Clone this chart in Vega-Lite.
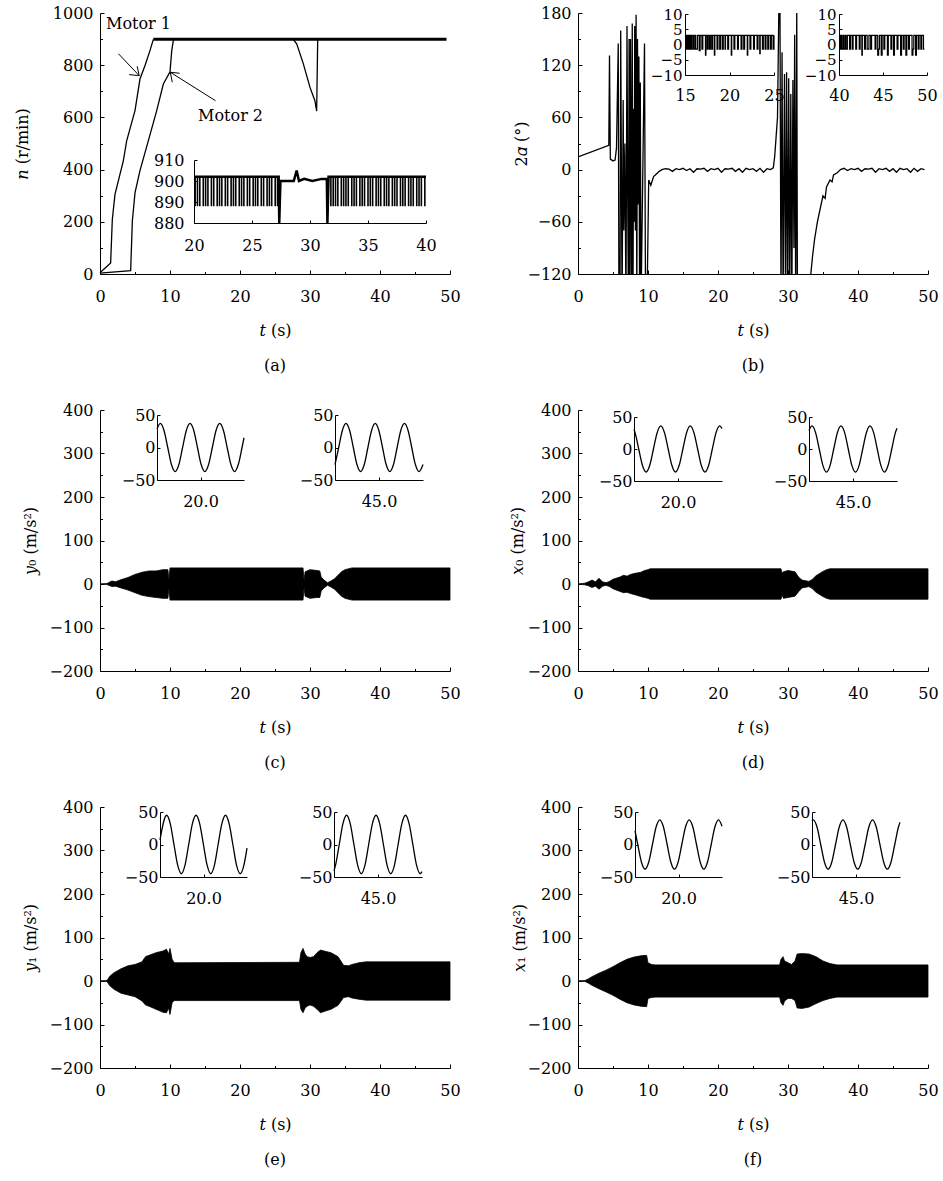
{
"$schema": "https://vega.github.io/schema/vega-lite/v6.json",
"padding": {"left": 14, "top": 1, "right": 5, "bottom": 5},
"config": {
 "view": {"stroke": null},
 "font": "DejaVu Serif",
 "axis": {"labelFont": "DejaVu Serif", "labelFontSize": 16, "labelColor": "black", "titleFont": "DejaVu Serif", "titleFontSize": 16, "titleFontWeight": "normal", "titleColor": "black", "domainColor": "black", "tickColor": "black", "grid": false, "labelFlush": false, "labelOverlap": false, "tickWidth": 1, "domainWidth": 1},
 "title": {"font": "DejaVu Serif", "fontSize": 16, "fontWeight": "normal", "color": "black"}
},
"columns": 2,
"spacing": {"row": 136, "column": 128},
"bounds": "flush",
"datasets": {
 "a_m": [
  {"motor":"1","t":0,"n":5},{"motor":"1","t":1.52,"n":42},{"motor":"1","t":1.76,"n":209},{"motor":"1","t":2.14,"n":305},{"motor":"1","t":3.33,"n":433},{"motor":"1","t":3.81,"n":510},{"motor":"1","t":5.0,"n":626},{"motor":"1","t":5.71,"n":747},{"motor":"1","t":6.43,"n":799},{"motor":"1","t":7.14,"n":856},{"motor":"1","t":7.62,"n":899},
  {"motor":"2","t":0,"n":3},{"motor":"2","t":4.38,"n":13},{"motor":"2","t":4.62,"n":203},{"motor":"2","t":5.0,"n":311},{"motor":"2","t":5.7,"n":395},{"motor":"2","t":6.9,"n":510},{"motor":"2","t":8.1,"n":626},{"motor":"2","t":9.05,"n":728},{"motor":"2","t":10.0,"n":775},{"motor":"2","t":10.25,"n":856},{"motor":"2","t":10.5,"n":899},
  {"motor":"dip","t":27.6,"n":899},{"motor":"dip","t":28.1,"n":882},{"motor":"dip","t":29.05,"n":805},{"motor":"dip","t":30.0,"n":715},{"motor":"dip","t":30.7,"n":664},{"motor":"dip","t":30.95,"n":624},{"motor":"dip","t":31.1,"n":899}
 ],
 "a_flat": [{"t":7.62,"n":899},{"t":49.5,"n":899}],
 "a_arr": [
  {"t1":2.63,"n1":844,"t2":5.6,"n2":760},{"t1":5.6,"n1":760,"t2":4.17,"n2":764},{"t1":5.6,"n1":760,"t2":5.31,"n2":796},
  {"t1":16.5,"n1":664,"t2":10.04,"n2":773},{"t1":10.04,"n1":773,"t2":11.38,"n2":769},{"t1":10.04,"n1":773,"t2":10.33,"n2":734.6}
 ],
 "a_txt": [{"t":5.5,"n":959,"label":"Motor 1"},{"t":18.65,"n":606,"label":"Motor 2"}],
 "a_il": [{"t":20,"n":902},{"t":27.3,"n":902},{"t":27.35,"n":880},{"t":27.45,"n":900},{"t":28.6,"n":900},{"t":28.85,"n":905},{"t":29.05,"n":900},{"t":29.5,"n":901},{"t":30.2,"n":900},{"t":31.0,"n":901},{"t":31.45,"n":901},{"t":31.5,"n":880},{"t":31.6,"n":902},{"t":40,"n":902}],
 "a_is": [
  {"t":20.1,"lo":888,"hi":902},{"t":20.3,"lo":888,"hi":902},{"t":20.5,"lo":888,"hi":902},{"t":20.8,"lo":888,"hi":902},{"t":21.0,"lo":888,"hi":902},{"t":21.2,"lo":888,"hi":902},{"t":21.5,"lo":888,"hi":902},{"t":21.7,"lo":888,"hi":902},{"t":22.0,"lo":888,"hi":902},{"t":22.2,"lo":888,"hi":902},{"t":22.4,"lo":888,"hi":902},{"t":22.7,"lo":888,"hi":902},{"t":22.9,"lo":888,"hi":902},{"t":23.2,"lo":888,"hi":902},{"t":23.4,"lo":888,"hi":902},{"t":23.6,"lo":888,"hi":902},{"t":23.9,"lo":888,"hi":902},{"t":24.1,"lo":888,"hi":902},{"t":24.3,"lo":888,"hi":902},{"t":24.6,"lo":888,"hi":902},{"t":24.8,"lo":888,"hi":902},{"t":25.1,"lo":888,"hi":902},{"t":25.3,"lo":888,"hi":902},{"t":25.5,"lo":888,"hi":902},{"t":25.8,"lo":888,"hi":902},{"t":26.0,"lo":888,"hi":902},{"t":26.3,"lo":888,"hi":902},{"t":26.5,"lo":888,"hi":902},{"t":26.7,"lo":888,"hi":902},{"t":27.0,"lo":888,"hi":902},{"t":27.2,"lo":888,"hi":902},
  {"t":31.8,"lo":888,"hi":902},{"t":32.0,"lo":888,"hi":902},{"t":32.2,"lo":888,"hi":902},{"t":32.4,"lo":888,"hi":902},{"t":32.7,"lo":888,"hi":902},{"t":32.9,"lo":888,"hi":902},{"t":33.1,"lo":888,"hi":902},{"t":33.3,"lo":888,"hi":902},{"t":33.6,"lo":888,"hi":902},{"t":33.8,"lo":888,"hi":902},{"t":34.0,"lo":888,"hi":902},{"t":34.3,"lo":888,"hi":902},{"t":34.5,"lo":888,"hi":902},{"t":34.7,"lo":888,"hi":902},{"t":35.0,"lo":888,"hi":902},{"t":35.2,"lo":888,"hi":902},{"t":35.4,"lo":888,"hi":902},{"t":35.7,"lo":888,"hi":902},{"t":35.9,"lo":888,"hi":902},{"t":36.1,"lo":888,"hi":902},{"t":36.4,"lo":888,"hi":902},{"t":36.6,"lo":888,"hi":902},{"t":36.8,"lo":888,"hi":902},{"t":37.1,"lo":888,"hi":902},{"t":37.3,"lo":888,"hi":902},{"t":37.5,"lo":888,"hi":902},{"t":37.8,"lo":888,"hi":902},{"t":38.0,"lo":888,"hi":902},{"t":38.2,"lo":888,"hi":902},{"t":38.5,"lo":888,"hi":902},{"t":38.7,"lo":888,"hi":902},{"t":38.9,"lo":888,"hi":902},{"t":39.2,"lo":888,"hi":902},{"t":39.4,"lo":888,"hi":902},{"t":39.6,"lo":888,"hi":902},{"t":39.9,"lo":888,"hi":902}
 ],
 "b_m": [
  {"t":0,"v":14.6},{"t":4.4,"v":28},{"t":4.5,"v":131},{"t":4.62,"v":12},{"t":5.0,"v":10},{"t":5.3,"v":11},{"t":5.5,"v":25},{"t":5.75,"v":145},{"t":5.85,"v":-160},{"t":6.0,"v":-160},{"t":6.1,"v":160},{"t":6.3,"v":-160},{"t":6.45,"v":80},{"t":6.55,"v":-70},{"t":6.7,"v":30},{"t":6.85,"v":-160},{"t":7.0,"v":165},{"t":7.1,"v":-30},{"t":7.2,"v":-160},{"t":7.3,"v":150},{"t":7.4,"v":-160},{"t":7.5,"v":150},{"t":7.6,"v":-30},{"t":7.65,"v":-160},{"t":7.75,"v":168},{"t":7.85,"v":-160},{"t":7.95,"v":70},{"t":8.05,"v":-60},{"t":8.1,"v":165},{"t":8.2,"v":-70},{"t":8.3,"v":178},{"t":8.4,"v":-160},{"t":8.5,"v":150},{"t":8.6,"v":-40},{"t":8.7,"v":130},{"t":8.8,"v":-160},{"t":8.9,"v":100},{"t":9.0,"v":-160},{"t":9.5,"v":145},{"t":9.65,"v":-160},{"t":9.85,"v":-160},{"t":10.1,"v":-12},{"t":10.4,"v":-18},{"t":10.8,"v":-8},{"t":11.2,"v":-5},{"t":11.6,"v":-2},
  {"t":12,"v":0},{"t":12.5,"v":1},{"t":13,"v":0.5},{"t":13.5,"v":-2},{"t":14,"v":1},{"t":14.5,"v":0},{"t":15,"v":1.5},{"t":15.5,"v":-1},{"t":16,"v":1},{"t":16.5,"v":-3},{"t":17,"v":1},{"t":17.5,"v":0.5},{"t":18,"v":1.5},{"t":18.5,"v":-2},{"t":19,"v":1},{"t":19.5,"v":0},{"t":20,"v":1.5},{"t":20.5,"v":-3},{"t":21,"v":1},{"t":21.5,"v":0.5},{"t":22,"v":1.5},{"t":22.5,"v":-2},{"t":23,"v":1},{"t":23.5,"v":-3},{"t":24,"v":1.5},{"t":24.5,"v":0},{"t":25,"v":1},{"t":25.5,"v":-2},{"t":26,"v":1.5},{"t":26.5,"v":-3},{"t":27,"v":1},{"t":27.5,"v":0},{"t":27.9,"v":2},
  {"t":28.1,"v":15},{"t":28.5,"v":60},{"t":28.7,"v":190},{"t":28.85,"v":190},{"t":29.0,"v":-160},{"t":29.15,"v":135},{"t":29.3,"v":-160},{"t":29.5,"v":110},{"t":29.65,"v":-160},{"t":29.8,"v":112},{"t":29.95,"v":-160},{"t":30.1,"v":105},{"t":30.25,"v":-160},{"t":30.4,"v":87},{"t":30.55,"v":-160},{"t":30.7,"v":103},{"t":30.85,"v":-90},{"t":30.95,"v":155},{"t":31.1,"v":-160},{"t":31.25,"v":190},{"t":31.35,"v":-160},{"t":33.2,"v":-125},{"t":33.5,"v":-100},{"t":33.8,"v":-80},{"t":34.2,"v":-60},{"t":34.6,"v":-45},{"t":35.0,"v":-30},{"t":35.3,"v":-33},{"t":35.5,"v":-20},{"t":36.0,"v":-12},{"t":36.3,"v":-14},{"t":36.5,"v":-6},{"t":37.0,"v":-4},{"t":37.5,"v":0},
  {"t":38,"v":1.5},{"t":38.5,"v":-1},{"t":39,"v":1},{"t":39.5,"v":0},{"t":40,"v":1.5},{"t":40.5,"v":-2},{"t":41,"v":1},{"t":41.5,"v":0.5},{"t":42,"v":1.5},{"t":42.5,"v":-3},{"t":43,"v":1},{"t":43.5,"v":0},{"t":44,"v":1.5},{"t":44.5,"v":-2},{"t":45,"v":1},{"t":45.5,"v":-3},{"t":46,"v":1.5},{"t":46.5,"v":0},{"t":47,"v":1},{"t":47.5,"v":-3},{"t":48,"v":1.5},{"t":48.5,"v":-2},{"t":49,"v":1},{"t":49.5,"v":0}
 ],
 "b_i1": [
  {"t":15.0,"v":3},{"t":15.1,"v":-1.5},{"t":15.2,"v":3},{"t":15.3,"v":-1.5},{"t":15.4,"v":3},{"t":15.5,"v":-1.5},{"t":15.6,"v":3},{"t":15.7,"v":-1.5},{"t":15.8,"v":3},{"t":15.95,"v":-1.5},{"t":16.1,"v":3},{"t":16.2,"v":-1.5},{"t":16.4,"v":3},{"t":16.6,"v":-2},{"t":16.7,"v":3},{"t":16.9,"v":-1.5},{"t":17.0,"v":3},{"t":17.3,"v":-3.5},{"t":17.35,"v":3},{"t":17.5,"v":-1.5},{"t":17.6,"v":3},{"t":17.75,"v":-1.5},{"t":17.85,"v":3},{"t":18.0,"v":-1.5},{"t":18.1,"v":3},{"t":18.3,"v":-3.5},{"t":18.35,"v":3},{"t":18.6,"v":-1.5},{"t":18.7,"v":3},{"t":18.9,"v":-1.5},{"t":19.0,"v":3},{"t":19.2,"v":-1.5},{"t":19.3,"v":3},{"t":19.5,"v":-1.5},{"t":19.55,"v":3},{"t":19.8,"v":-1.5},{"t":19.9,"v":3},{"t":20.2,"v":-3.5},{"t":20.25,"v":3},{"t":20.5,"v":-1.5},{"t":20.6,"v":3},{"t":20.9,"v":-1.5},{"t":21.0,"v":3},{"t":21.3,"v":-1.5},{"t":21.4,"v":3},{"t":21.6,"v":-1.5},{"t":21.7,"v":3},{"t":22.0,"v":-3.5},{"t":22.05,"v":3},{"t":22.3,"v":-1.5},{"t":22.4,"v":3},{"t":22.7,"v":-1.5},{"t":22.8,"v":3},{"t":23.1,"v":-1.5},{"t":23.2,"v":3},{"t":23.4,"v":-3},{"t":23.45,"v":3},{"t":23.7,"v":-1.5},{"t":23.8,"v":3},{"t":24.0,"v":-1.5},{"t":24.1,"v":3},{"t":24.3,"v":-1.5},{"t":24.4,"v":3},{"t":24.6,"v":-1.5},{"t":24.7,"v":3},{"t":24.9,"v":-1.5},{"t":25.0,"v":3}
 ],
 "b_i2": [
  {"t":40.0,"v":3},{"t":40.1,"v":-1.5},{"t":40.2,"v":3},{"t":40.3,"v":-1.5},{"t":40.45,"v":3},{"t":40.55,"v":-1.5},{"t":40.7,"v":3},{"t":40.8,"v":-1.5},{"t":40.95,"v":3},{"t":41.2,"v":-1.5},{"t":41.3,"v":3},{"t":41.5,"v":-1.5},{"t":41.6,"v":3},{"t":41.9,"v":-1.5},{"t":42.0,"v":3},{"t":42.3,"v":-1.5},{"t":42.4,"v":3},{"t":42.6,"v":-3.5},{"t":42.65,"v":3},{"t":42.9,"v":-1.5},{"t":43.0,"v":3},{"t":43.2,"v":-1.5},{"t":43.4,"v":3},{"t":43.6,"v":-1.5},{"t":43.7,"v":3},{"t":44.1,"v":-1.5},{"t":44.2,"v":3},{"t":44.4,"v":-3.5},{"t":44.5,"v":-1.5},{"t":44.6,"v":3},{"t":44.8,"v":-3.5},{"t":44.9,"v":3},{"t":45.1,"v":-1.5},{"t":45.2,"v":3},{"t":45.5,"v":-3.5},{"t":45.6,"v":3},{"t":45.9,"v":-1.5},{"t":46.0,"v":3},{"t":46.2,"v":-3.5},{"t":46.3,"v":3},{"t":46.6,"v":-1.5},{"t":46.7,"v":3},{"t":47.0,"v":-3.5},{"t":47.1,"v":3},{"t":47.3,"v":-1.5},{"t":47.4,"v":3},{"t":47.6,"v":-3.5},{"t":47.7,"v":3},{"t":47.9,"v":-1.5},{"t":48.0,"v":3},{"t":48.3,"v":-3.5},{"t":48.4,"v":-1.5},{"t":48.5,"v":3},{"t":48.7,"v":-3.5},{"t":48.8,"v":3},{"t":49.0,"v":-1.5},{"t":49.1,"v":3},{"t":49.3,"v":-1.5},{"t":49.4,"v":3},{"t":49.6,"v":-1.5},{"t":49.7,"v":-1.5}
 ],
 "c_e": [
  {"t":0,"hi":0,"lo":0},{"t":1,"hi":1,"lo":-1},{"t":1.7,"hi":7,"lo":-6},{"t":2.2,"hi":5,"lo":-5},{"t":3,"hi":10,"lo":-9},{"t":4,"hi":15,"lo":-14},{"t":5,"hi":22,"lo":-20},{"t":6,"hi":27,"lo":-26},{"t":7,"hi":30,"lo":-29},{"t":8,"hi":30,"lo":-31},{"t":9,"hi":33,"lo":-33},{"t":9.7,"hi":33,"lo":-33},{"t":9.85,"hi":10,"lo":-10},{"t":10.0,"hi":37,"lo":-37},{"t":29.0,"hi":37,"lo":-37},{"t":29.15,"hi":8,"lo":-8},{"t":29.3,"hi":28,"lo":-28},{"t":30,"hi":33,"lo":-33},{"t":31,"hi":31,"lo":-31},{"t":31.4,"hi":30,"lo":-31},{"t":31.6,"hi":16,"lo":-16},{"t":32,"hi":9,"lo":-9},{"t":32.5,"hi":3,"lo":-3},{"t":33,"hi":7,"lo":-7},{"t":33.5,"hi":12,"lo":-12},{"t":34,"hi":20,"lo":-20},{"t":34.5,"hi":28,"lo":-28},{"t":35,"hi":33,"lo":-33},{"t":36,"hi":37,"lo":-37},{"t":50,"hi":37,"lo":-37}
 ],
 "d_e": [
  {"t":0,"hi":0,"lo":0},{"t":1,"hi":2,"lo":-2},{"t":1.5,"hi":5,"lo":-4},{"t":2,"hi":9,"lo":-8},{"t":2.5,"hi":5,"lo":-5},{"t":3,"hi":13,"lo":-12},{"t":3.5,"hi":5,"lo":-5},{"t":4,"hi":3,"lo":-3},{"t":4.5,"hi":6,"lo":-6},{"t":5,"hi":11,"lo":-11},{"t":6,"hi":16,"lo":-17},{"t":6.5,"hi":20,"lo":-20},{"t":7,"hi":18,"lo":-19},{"t":7.5,"hi":22,"lo":-22},{"t":8,"hi":24,"lo":-24},{"t":9,"hi":27,"lo":-29},{"t":9.5,"hi":31,"lo":-31},{"t":10,"hi":33,"lo":-33},{"t":10.3,"hi":35,"lo":-35},{"t":29,"hi":35,"lo":-35},{"t":29.15,"hi":25,"lo":-25},{"t":29.35,"hi":28,"lo":-33},{"t":30,"hi":31,"lo":-31},{"t":31,"hi":28,"lo":-28},{"t":31.5,"hi":16,"lo":-18},{"t":32,"hi":9,"lo":-9},{"t":33,"hi":6,"lo":-6},{"t":33.5,"hi":11,"lo":-11},{"t":34,"hi":19,"lo":-19},{"t":35,"hi":29,"lo":-29},{"t":35.5,"hi":33,"lo":-33},{"t":36,"hi":35,"lo":-35},{"t":50,"hi":35,"lo":-35}
 ],
 "e_e": [
  {"t":0,"hi":0,"lo":0},{"t":1,"hi":1,"lo":-1},{"t":1.4,"hi":11,"lo":-11},{"t":2,"hi":19,"lo":-19},{"t":3,"hi":28,"lo":-28},{"t":4,"hi":35,"lo":-32},{"t":5,"hi":38,"lo":-36},{"t":6,"hi":44,"lo":-46},{"t":6.5,"hi":56,"lo":-55},{"t":7,"hi":59,"lo":-58},{"t":8,"hi":65,"lo":-65},{"t":9,"hi":69,"lo":-72},{"t":9.5,"hi":73,"lo":-73},{"t":9.8,"hi":62,"lo":-62},{"t":10,"hi":75,"lo":-77},{"t":10.3,"hi":50,"lo":-50},{"t":10.6,"hi":42,"lo":-45},{"t":12,"hi":42,"lo":-45},{"t":28.5,"hi":43,"lo":-45},{"t":28.7,"hi":65,"lo":-65},{"t":29,"hi":75,"lo":-73},{"t":29.3,"hi":62,"lo":-62},{"t":29.6,"hi":56,"lo":-58},{"t":30,"hi":54,"lo":-55},{"t":30.5,"hi":56,"lo":-58},{"t":31,"hi":65,"lo":-65},{"t":31.5,"hi":71,"lo":-73},{"t":32,"hi":69,"lo":-70},{"t":33,"hi":65,"lo":-65},{"t":34,"hi":56,"lo":-56},{"t":34.8,"hi":36,"lo":-38},{"t":35.5,"hi":35,"lo":-36},{"t":36,"hi":38,"lo":-39},{"t":37,"hi":42,"lo":-42},{"t":38,"hi":44,"lo":-44},{"t":50,"hi":44,"lo":-44}
 ],
 "f_e": [
  {"t":0,"hi":0,"lo":0},{"t":1,"hi":1,"lo":-1},{"t":1.5,"hi":5,"lo":-5},{"t":2,"hi":10,"lo":-10},{"t":3,"hi":18,"lo":-18},{"t":4,"hi":25,"lo":-25},{"t":5,"hi":33,"lo":-33},{"t":6,"hi":42,"lo":-42},{"t":7,"hi":50,"lo":-50},{"t":8,"hi":55,"lo":-55},{"t":9,"hi":58,"lo":-58},{"t":9.8,"hi":59,"lo":-59},{"t":10,"hi":42,"lo":-40},{"t":10.5,"hi":38,"lo":-38},{"t":11,"hi":37,"lo":-37},{"t":28.8,"hi":37,"lo":-37},{"t":29,"hi":50,"lo":-50},{"t":29.3,"hi":56,"lo":-56},{"t":29.5,"hi":46,"lo":-46},{"t":30,"hi":42,"lo":-40},{"t":30.5,"hi":38,"lo":-40},{"t":31,"hi":46,"lo":-45},{"t":31.3,"hi":62,"lo":-62},{"t":32,"hi":63,"lo":-63},{"t":33,"hi":62,"lo":-60},{"t":34,"hi":56,"lo":-52},{"t":35,"hi":46,"lo":-45},{"t":36,"hi":40,"lo":-40},{"t":37,"hi":37,"lo":-37},{"t":50,"hi":37,"lo":-37}
 ],
 "c_s1": [
  {"t":19.9,"v":28.3},{"t":19.9076,"v":37},{"t":19.9161,"v":26.2},{"t":19.9247,"v":0},{"t":19.9332,"v":-26.2},{"t":19.9418,"v":-37},{"t":19.9503,"v":-26.2},{"t":19.9588,"v":0},{"t":19.9674,"v":26.2},{"t":19.9759,"v":37},{"t":19.9845,"v":26.2},{"t":19.993,"v":0},{"t":20.0015,"v":-26.2},{"t":20.0101,"v":-37},{"t":20.0186,"v":-26.2},{"t":20.0272,"v":0},{"t":20.0357,"v":26.2},{"t":20.0442,"v":37},{"t":20.0528,"v":26.2},{"t":20.0613,"v":0},{"t":20.0699,"v":-26.2},{"t":20.0784,"v":-37},{"t":20.0869,"v":-26.2},{"t":20.0955,"v":0},{"t":20.1,"v":15}
 ],
 "c_s2": [
  {"t":44.9,"v":-26.4},{"t":44.9084,"v":0},{"t":44.9167,"v":26.2},{"t":44.925,"v":37},{"t":44.9333,"v":26.2},{"t":44.9416,"v":0},{"t":44.9499,"v":-26.2},{"t":44.9582,"v":-37},{"t":44.9665,"v":-26.2},{"t":44.9748,"v":0},{"t":44.9831,"v":26.2},{"t":44.9914,"v":37},{"t":44.9997,"v":26.2},{"t":45.008,"v":0},{"t":45.0163,"v":-26.2},{"t":45.0246,"v":-37},{"t":45.0329,"v":-26.2},{"t":45.0412,"v":0},{"t":45.0495,"v":26.2},{"t":45.0578,"v":37},{"t":45.0661,"v":26.2},{"t":45.0744,"v":0},{"t":45.0827,"v":-26.2},{"t":45.091,"v":-37},{"t":45.1,"v":-26}
 ],
 "d_s1": [
  {"t":19.9,"v":30.4},{"t":19.9024,"v":25.5},{"t":19.9107,"v":0},{"t":19.9191,"v":-25.5},{"t":19.9275,"v":-36},{"t":19.9358,"v":-25.5},{"t":19.9442,"v":0},{"t":19.9526,"v":25.5},{"t":19.9609,"v":36},{"t":19.9693,"v":25.5},{"t":19.9777,"v":0},{"t":19.986,"v":-25.5},{"t":19.9944,"v":-36},{"t":20.0027,"v":-25.5},{"t":20.0111,"v":0},{"t":20.0195,"v":25.5},{"t":20.0278,"v":36},{"t":20.0362,"v":25.5},{"t":20.0446,"v":0},{"t":20.0529,"v":-25.5},{"t":20.0613,"v":-36},{"t":20.0697,"v":-25.5},{"t":20.078,"v":0},{"t":20.0864,"v":25.5},{"t":20.0948,"v":36},{"t":20.1,"v":31.8}
 ],
 "d_s2": [
  {"t":44.9,"v":28.8},{"t":44.9068,"v":36},{"t":44.915,"v":25.5},{"t":44.9233,"v":0},{"t":44.9315,"v":-25.5},{"t":44.9398,"v":-36},{"t":44.948,"v":-25.5},{"t":44.9562,"v":0},{"t":44.9645,"v":25.5},{"t":44.9727,"v":36},{"t":44.981,"v":25.5},{"t":44.9892,"v":0},{"t":44.9974,"v":-25.5},{"t":45.0057,"v":-36},{"t":45.0139,"v":-25.5},{"t":45.0221,"v":0},{"t":45.0304,"v":25.5},{"t":45.0386,"v":36},{"t":45.0469,"v":25.5},{"t":45.0551,"v":0},{"t":45.0633,"v":-25.5},{"t":45.0716,"v":-36},{"t":45.0798,"v":-25.5},{"t":45.0881,"v":0},{"t":45.0963,"v":25.5},{"t":45.1,"v":32.6}
 ],
 "e_s1": [
  {"t":19.9,"v":7.1},{"t":19.9152,"v":45},{"t":19.9237,"v":31.8},{"t":19.9321,"v":0},{"t":19.9406,"v":-31.8},{"t":19.949,"v":-45},{"t":19.9575,"v":-31.8},{"t":19.966,"v":0},{"t":19.9744,"v":31.8},{"t":19.9829,"v":45},{"t":19.9913,"v":31.8},{"t":19.9998,"v":0},{"t":20.0083,"v":-31.8},{"t":20.0167,"v":-45},{"t":20.0252,"v":-31.8},{"t":20.0336,"v":0},{"t":20.0421,"v":31.8},{"t":20.0506,"v":45},{"t":20.059,"v":31.8},{"t":20.0675,"v":0},{"t":20.0759,"v":-31.8},{"t":20.0844,"v":-45},{"t":20.0929,"v":-31.8},{"t":20.1,"v":-5.6}
 ],
 "e_s2": [
  {"t":44.9,"v":-40.4},{"t":44.9035,"v":-31.8},{"t":44.9119,"v":0},{"t":44.9202,"v":31.8},{"t":44.9286,"v":45},{"t":44.937,"v":31.8},{"t":44.9453,"v":0},{"t":44.9537,"v":-31.8},{"t":44.9621,"v":-45},{"t":44.9704,"v":-31.8},{"t":44.9788,"v":0},{"t":44.9872,"v":31.8},{"t":44.9955,"v":45},{"t":45.0039,"v":31.8},{"t":45.0123,"v":0},{"t":45.0206,"v":-31.8},{"t":45.029,"v":-45},{"t":45.0374,"v":-31.8},{"t":45.0457,"v":0},{"t":45.0541,"v":31.8},{"t":45.0625,"v":45},{"t":45.0708,"v":31.8},{"t":45.0792,"v":0},{"t":45.0876,"v":-31.8},{"t":45.0959,"v":-45},{"t":45.1,"v":-41.7}
 ],
 "f_s1": [
  {"t":19.9,"v":21},{"t":19.9063,"v":0},{"t":19.9147,"v":-26.9},{"t":19.9232,"v":-38},{"t":19.9316,"v":-26.9},{"t":19.9401,"v":0},{"t":19.9485,"v":26.9},{"t":19.957,"v":38},{"t":19.9654,"v":26.9},{"t":19.9739,"v":0},{"t":19.9823,"v":-26.9},{"t":19.9907,"v":-38},{"t":19.9992,"v":-26.9},{"t":20.0076,"v":0},{"t":20.0161,"v":26.9},{"t":20.0245,"v":38},{"t":20.033,"v":26.9},{"t":20.0414,"v":0},{"t":20.0498,"v":-26.9},{"t":20.0583,"v":-38},{"t":20.0667,"v":-26.9},{"t":20.0752,"v":0},{"t":20.0836,"v":26.9},{"t":20.0921,"v":38},{"t":20.1,"v":28.2}
 ],
 "f_s2": [
  {"t":44.9,"v":36.5},{"t":44.903,"v":38},{"t":44.9114,"v":26.9},{"t":44.9198,"v":0},{"t":44.9282,"v":-26.9},{"t":44.9367,"v":-38},{"t":44.9451,"v":-26.9},{"t":44.9535,"v":0},{"t":44.9619,"v":26.9},{"t":44.9703,"v":38},{"t":44.9787,"v":26.9},{"t":44.9871,"v":0},{"t":44.9955,"v":-26.9},{"t":45.004,"v":-38},{"t":45.0124,"v":-26.9},{"t":45.0208,"v":0},{"t":45.0292,"v":26.9},{"t":45.0376,"v":38},{"t":45.046,"v":26.9},{"t":45.0544,"v":0},{"t":45.0628,"v":-26.9},{"t":45.0713,"v":-38},{"t":45.0797,"v":-26.9},{"t":45.0881,"v":0},{"t":45.0965,"v":26.9},{"t":45.1,"v":34.1}
 ]
},
"concat": [
 {
  "width": 350, "height": 261,
  "title": {"text": "(a)", "orient": "bottom", "frame": "group", "offset": 20},
  "resolve": {"scale": {"x": "independent", "y": "independent"}},
  "layer": [
   {"data": {"name": "a_m"}, "mark": {"type": "line", "color": "black", "strokeWidth": 1.3},
    "encoding": {
     "x": {"field": "t", "type": "quantitative", "scale": {"domain": [0, 50], "nice": false, "zero": false}, "axis": {"orient": "bottom", "values": [0,10,20,30,40,50], "format": "d", "title": "𝑡 (s)", "tickSize": -4, "labelPadding": 18, "titlePadding": 18}},
     "y": {"field": "n", "type": "quantitative", "scale": {"domain": [0, 1000], "nice": false, "zero": false}, "axis": {"orient": "left", "values": [0,200,400,600,800,1000], "format": "d", "title": "𝑛 (r/min)", "tickSize": -4, "labelPadding": 11, "titlePadding": 22}},
     "detail": {"field": "motor"}
    }},
   {"data": {"name": "a_flat"}, "mark": {"type": "line", "color": "black", "strokeWidth": 3},
    "encoding": {
     "x": {"field": "t", "type": "quantitative", "scale": {"domain": [0, 50], "nice": false, "zero": false}, "axis": null},
     "y": {"field": "n", "type": "quantitative", "scale": {"domain": [0, 1000], "nice": false, "zero": false}, "axis": null}
    }},
   {"data": {"name": "a_arr"}, "mark": {"type": "rule", "color": "black", "strokeWidth": 1},
    "encoding": {
     "x": {"field": "t1", "type": "quantitative", "scale": {"domain": [0, 50], "nice": false, "zero": false}, "axis": null},
     "y": {"field": "n1", "type": "quantitative", "scale": {"domain": [0, 1000], "nice": false, "zero": false}, "axis": null},
     "x2": {"field": "t2"},
     "y2": {"field": "n2"}
    }},
   {"data": {"name": "a_txt"}, "mark": {"type": "text", "font": "DejaVu Serif", "fontSize": 16, "align": "center", "baseline": "middle", "color": "black"},
    "encoding": {
     "x": {"field": "t", "type": "quantitative", "scale": {"domain": [0, 50], "nice": false, "zero": false}, "axis": null},
     "y": {"field": "n", "type": "quantitative", "scale": {"domain": [0, 1000], "nice": false, "zero": false}, "axis": null},
     "text": {"field": "label"}
    }},
   {"data": {"name": "a_flat"}, "mark": {"type": "point", "opacity": 0},
    "encoding": {
     "x": {"field": "t", "type": "quantitative", "scale": {"domain": [0, 50], "nice": false, "zero": false}, "axis": {"orient": "bottom", "values": [5,15,25,35,45], "labels": false, "domain": false, "tickSize": -2.5, "title": null}},
     "y": {"field": "n", "type": "quantitative", "scale": {"domain": [0, 1000], "nice": false, "zero": false}, "axis": {"orient": "left", "values": [100,300,500,700,900], "labels": false, "domain": false, "tickSize": -2.5, "title": null}}
    }},
   {"data": {"name": "a_il"}, "mark": {"type": "line", "color": "black", "strokeWidth": 2.5},
    "encoding": {
     "x": {"field": "t", "type": "quantitative", "scale": {"domain": [20, 40], "range": [94, 326], "nice": false, "zero": false}, "axis": {"orient": "bottom", "offset": -51, "values": [20,25,30,35,40], "format": "d", "tickSize": -3, "labelPadding": 17, "title": null}},
     "y": {"field": "n", "type": "quantitative", "scale": {"domain": [880, 910], "range": [210, 147], "nice": false, "zero": false}, "axis": {"orient": "left", "offset": -94, "values": [880,890,900,910], "format": "d", "tickSize": -3, "labelPadding": 13, "title": null}}
    }},
   {"data": {"name": "a_is"}, "mark": {"type": "rule", "color": "black", "strokeWidth": 1.6},
    "encoding": {
     "x": {"field": "t", "type": "quantitative", "scale": {"domain": [20, 40], "range": [94, 326], "nice": false, "zero": false}, "axis": null},
     "y": {"field": "lo", "type": "quantitative", "scale": {"domain": [880, 910], "range": [210, 147], "nice": false, "zero": false}, "axis": null},
     "y2": {"field": "hi"}
    }}
  ]
 },
 {
  "width": 350, "height": 261,
  "title": {"text": "(b)", "orient": "bottom", "frame": "group", "offset": 20},
  "resolve": {"scale": {"x": "independent", "y": "independent"}},
  "layer": [
   {"data": {"name": "b_m"}, "mark": {"type": "line", "color": "black", "strokeWidth": 1.3, "clip": true},
    "encoding": {
     "x": {"field": "t", "type": "quantitative", "scale": {"domain": [0, 50], "nice": false, "zero": false}, "axis": {"orient": "bottom", "values": [0,10,20,30,40,50], "format": "d", "title": "𝑡 (s)", "tickSize": -4, "labelPadding": 18, "titlePadding": 18}},
     "y": {"field": "v", "type": "quantitative", "scale": {"domain": [-120, 180], "nice": false, "zero": false}, "axis": {"orient": "left", "values": [-120,-60,0,60,120,180], "format": "d", "title": "2𝛼 (°)", "tickSize": -4, "labelPadding": 11, "titleX": -49}}
    }},
   {"data": {"name": "b_m"}, "mark": {"type": "point", "opacity": 0},
    "encoding": {
     "x": {"field": "t", "type": "quantitative", "scale": {"domain": [0, 50], "nice": false, "zero": false}, "axis": {"orient": "bottom", "values": [5,15,25,35,45], "labels": false, "domain": false, "tickSize": -2.5, "title": null}},
     "y": {"field": "v", "type": "quantitative", "scale": {"domain": [-120, 180], "nice": false, "zero": false}, "axis": {"orient": "left", "values": [-90,-30,30,90,150], "labels": false, "domain": false, "tickSize": -2.5, "title": null}}
    }},
   {"data": {"name": "b_i1"}, "mark": {"type": "line", "color": "black", "strokeWidth": 1.2, "interpolate": "step-after"},
    "encoding": {
     "x": {"field": "t", "type": "quantitative", "scale": {"domain": [15, 25], "range": [107, 196], "nice": false, "zero": false}, "axis": {"orient": "bottom", "offset": -199, "values": [15,20,25], "format": "d", "tickSize": -3, "labelPadding": 15, "title": null}},
     "y": {"field": "v", "type": "quantitative", "scale": {"domain": [-10, 10], "range": [62, 1], "nice": false, "zero": false}, "axis": {"orient": "left", "offset": -107, "values": [-10,-5,0,5,10], "format": "d", "tickSize": -3, "labelPadding": 6, "labelFontSize": 15, "title": null}}
    }},
   {"data": {"name": "b_i2"}, "mark": {"type": "line", "color": "black", "strokeWidth": 1.2, "interpolate": "step-after"},
    "encoding": {
     "x": {"field": "t", "type": "quantitative", "scale": {"domain": [40, 50], "range": [261, 349], "nice": false, "zero": false}, "axis": {"orient": "bottom", "offset": -199, "values": [40,45,50], "format": "d", "tickSize": -3, "labelPadding": 15, "title": null}},
     "y": {"field": "v", "type": "quantitative", "scale": {"domain": [-10, 10], "range": [62, 1], "nice": false, "zero": false}, "axis": {"orient": "left", "offset": -261, "values": [-10,-5,0,5,10], "format": "d", "tickSize": -3, "labelPadding": 6, "labelFontSize": 15, "title": null}}
    }}
  ]
 },
 {
  "width": 350, "height": 261,
  "title": {"text": "(c)", "orient": "bottom", "frame": "group", "offset": 20},
  "resolve": {"scale": {"x": "independent", "y": "independent"}},
  "layer": [
   {"data": {"name": "c_e"}, "mark": {"type": "area", "color": "black", "stroke": "black", "strokeWidth": 0.8},
    "encoding": {
     "x": {"field": "t", "type": "quantitative", "scale": {"domain": [0, 50], "nice": false, "zero": false}, "axis": {"orient": "bottom", "values": [0,10,20,30,40,50], "format": "d", "title": "𝑡 (s)", "tickSize": -4, "labelPadding": 18, "titlePadding": 18}},
     "y": {"field": "hi", "type": "quantitative", "scale": {"domain": [-200, 400], "nice": false, "zero": false}, "axis": {"orient": "left", "values": [-200,-100,0,100,200,300,400], "format": "d", "title": "𝑦₀ (m/s²)", "tickSize": -4, "labelPadding": 11, "titlePadding": 11}},
     "y2": {"field": "lo"}
    }},
   {"data": {"name": "c_e"}, "mark": {"type": "point", "opacity": 0},
    "encoding": {
     "x": {"field": "t", "type": "quantitative", "scale": {"domain": [0, 50], "nice": false, "zero": false}, "axis": {"orient": "bottom", "values": [5,15,25,35,45], "labels": false, "domain": false, "tickSize": -2.5, "title": null}},
     "y": {"field": "hi", "type": "quantitative", "scale": {"domain": [-200, 400], "nice": false, "zero": false}, "axis": {"orient": "left", "values": [-150,-50,50,150,250,350], "labels": false, "domain": false, "tickSize": -2.5, "title": null}}
    }},
   {"data": {"name": "c_s1"}, "mark": {"type": "line", "color": "black", "strokeWidth": 1.3, "interpolate": "monotone"},
    "encoding": {
     "x": {"field": "t", "type": "quantitative", "scale": {"domain": [19.9, 20.1], "range": [57, 144], "nice": false, "zero": false}, "axis": {"orient": "bottom", "offset": -191, "values": [20], "format": ".1f", "tickSize": -3, "labelPadding": 16, "title": null}},
     "y": {"field": "v", "type": "quantitative", "scale": {"domain": [-50, 50], "range": [70, 5], "nice": false, "zero": false}, "axis": {"orient": "left", "offset": -57, "values": [-50,0,50], "format": "d", "tickSize": -3, "labelPadding": 5, "title": null}}
    }},
   {"data": {"name": "c_s2"}, "mark": {"type": "line", "color": "black", "strokeWidth": 1.3, "interpolate": "monotone"},
    "encoding": {
     "x": {"field": "t", "type": "quantitative", "scale": {"domain": [44.9, 45.1], "range": [235, 323], "nice": false, "zero": false}, "axis": {"orient": "bottom", "offset": -191, "values": [45], "format": ".1f", "tickSize": -3, "labelPadding": 16, "title": null}},
     "y": {"field": "v", "type": "quantitative", "scale": {"domain": [-50, 50], "range": [70, 5], "nice": false, "zero": false}, "axis": {"orient": "left", "offset": -235, "values": [-50,0,50], "format": "d", "tickSize": -3, "labelPadding": 5, "title": null}}
    }}
  ]
 },
 {
  "width": 350, "height": 261,
  "title": {"text": "(d)", "orient": "bottom", "frame": "group", "offset": 20},
  "resolve": {"scale": {"x": "independent", "y": "independent"}},
  "layer": [
   {"data": {"name": "d_e"}, "mark": {"type": "area", "color": "black", "stroke": "black", "strokeWidth": 0.8},
    "encoding": {
     "x": {"field": "t", "type": "quantitative", "scale": {"domain": [0, 50], "nice": false, "zero": false}, "axis": {"orient": "bottom", "values": [0,10,20,30,40,50], "format": "d", "title": "𝑡 (s)", "tickSize": -4, "labelPadding": 18, "titlePadding": 18}},
     "y": {"field": "hi", "type": "quantitative", "scale": {"domain": [-200, 400], "nice": false, "zero": false}, "axis": {"orient": "left", "values": [-200,-100,0,100,200,300,400], "format": "d", "title": "𝑥₀ (m/s²)", "tickSize": -4, "labelPadding": 11, "titlePadding": 2}},
     "y2": {"field": "lo"}
    }},
   {"data": {"name": "d_e"}, "mark": {"type": "point", "opacity": 0},
    "encoding": {
     "x": {"field": "t", "type": "quantitative", "scale": {"domain": [0, 50], "nice": false, "zero": false}, "axis": {"orient": "bottom", "values": [5,15,25,35,45], "labels": false, "domain": false, "tickSize": -2.5, "title": null}},
     "y": {"field": "hi", "type": "quantitative", "scale": {"domain": [-200, 400], "nice": false, "zero": false}, "axis": {"orient": "left", "values": [-150,-50,50,150,250,350], "labels": false, "domain": false, "tickSize": -2.5, "title": null}}
    }},
   {"data": {"name": "d_s1"}, "mark": {"type": "line", "color": "black", "strokeWidth": 1.3, "interpolate": "monotone"},
    "encoding": {
     "x": {"field": "t", "type": "quantitative", "scale": {"domain": [19.9, 20.1], "range": [56, 144], "nice": false, "zero": false}, "axis": {"orient": "bottom", "offset": -190, "values": [20], "format": ".1f", "tickSize": -3, "labelPadding": 16, "title": null}},
     "y": {"field": "v", "type": "quantitative", "scale": {"domain": [-50, 50], "range": [71, 7], "nice": false, "zero": false}, "axis": {"orient": "left", "offset": -56, "values": [-50,0,50], "format": "d", "tickSize": -3, "labelPadding": 5, "title": null}}
    }},
   {"data": {"name": "d_s2"}, "mark": {"type": "line", "color": "black", "strokeWidth": 1.3, "interpolate": "monotone"},
    "encoding": {
     "x": {"field": "t", "type": "quantitative", "scale": {"domain": [44.9, 45.1], "range": [231, 319], "nice": false, "zero": false}, "axis": {"orient": "bottom", "offset": -190, "values": [45], "format": ".1f", "tickSize": -3, "labelPadding": 16, "title": null}},
     "y": {"field": "v", "type": "quantitative", "scale": {"domain": [-50, 50], "range": [71, 7], "nice": false, "zero": false}, "axis": {"orient": "left", "offset": -231, "values": [-50,0,50], "format": "d", "tickSize": -3, "labelPadding": 5, "title": null}}
    }}
  ]
 },
 {
  "width": 350, "height": 261,
  "title": {"text": "(e)", "orient": "bottom", "frame": "group", "offset": 20},
  "resolve": {"scale": {"x": "independent", "y": "independent"}},
  "layer": [
   {"data": {"name": "e_e"}, "mark": {"type": "area", "color": "black", "stroke": "black", "strokeWidth": 0.8},
    "encoding": {
     "x": {"field": "t", "type": "quantitative", "scale": {"domain": [0, 50], "nice": false, "zero": false}, "axis": {"orient": "bottom", "values": [0,10,20,30,40,50], "format": "d", "title": "𝑡 (s)", "tickSize": -4, "labelPadding": 18, "titlePadding": 18}},
     "y": {"field": "hi", "type": "quantitative", "scale": {"domain": [-200, 400], "nice": false, "zero": false}, "axis": {"orient": "left", "values": [-200,-100,0,100,200,300,400], "format": "d", "title": "𝑦₁ (m/s²)", "tickSize": -4, "labelPadding": 11, "titlePadding": 11}},
     "y2": {"field": "lo"}
    }},
   {"data": {"name": "e_e"}, "mark": {"type": "point", "opacity": 0},
    "encoding": {
     "x": {"field": "t", "type": "quantitative", "scale": {"domain": [0, 50], "nice": false, "zero": false}, "axis": {"orient": "bottom", "values": [5,15,25,35,45], "labels": false, "domain": false, "tickSize": -2.5, "title": null}},
     "y": {"field": "hi", "type": "quantitative", "scale": {"domain": [-200, 400], "nice": false, "zero": false}, "axis": {"orient": "left", "values": [-150,-50,50,150,250,350], "labels": false, "domain": false, "tickSize": -2.5, "title": null}}
    }},
   {"data": {"name": "e_s1"}, "mark": {"type": "line", "color": "black", "strokeWidth": 1.3, "interpolate": "monotone"},
    "encoding": {
     "x": {"field": "t", "type": "quantitative", "scale": {"domain": [19.9, 20.1], "range": [60, 147], "nice": false, "zero": false}, "axis": {"orient": "bottom", "offset": -191, "values": [20], "format": ".1f", "tickSize": -3, "labelPadding": 16, "title": null}},
     "y": {"field": "v", "type": "quantitative", "scale": {"domain": [-50, 50], "range": [70, 5], "nice": false, "zero": false}, "axis": {"orient": "left", "offset": -60, "values": [-50,0,50], "format": "d", "tickSize": -3, "labelPadding": 5, "title": null}}
    }},
   {"data": {"name": "e_s2"}, "mark": {"type": "line", "color": "black", "strokeWidth": 1.3, "interpolate": "monotone"},
    "encoding": {
     "x": {"field": "t", "type": "quantitative", "scale": {"domain": [44.9, 45.1], "range": [234, 322], "nice": false, "zero": false}, "axis": {"orient": "bottom", "offset": -191, "values": [45], "format": ".1f", "tickSize": -3, "labelPadding": 16, "title": null}},
     "y": {"field": "v", "type": "quantitative", "scale": {"domain": [-50, 50], "range": [70, 5], "nice": false, "zero": false}, "axis": {"orient": "left", "offset": -234, "values": [-50,0,50], "format": "d", "tickSize": -3, "labelPadding": 5, "title": null}}
    }}
  ]
 },
 {
  "width": 350, "height": 261,
  "title": {"text": "(f)", "orient": "bottom", "frame": "group", "offset": 20},
  "resolve": {"scale": {"x": "independent", "y": "independent"}},
  "layer": [
   {"data": {"name": "f_e"}, "mark": {"type": "area", "color": "black", "stroke": "black", "strokeWidth": 0.8},
    "encoding": {
     "x": {"field": "t", "type": "quantitative", "scale": {"domain": [0, 50], "nice": false, "zero": false}, "axis": {"orient": "bottom", "values": [0,10,20,30,40,50], "format": "d", "title": "𝑡 (s)", "tickSize": -4, "labelPadding": 18, "titlePadding": 18}},
     "y": {"field": "hi", "type": "quantitative", "scale": {"domain": [-200, 400], "nice": false, "zero": false}, "axis": {"orient": "left", "values": [-200,-100,0,100,200,300,400], "format": "d", "title": "𝑥₁ (m/s²)", "tickSize": -4, "labelPadding": 11, "titlePadding": 0}},
     "y2": {"field": "lo"}
    }},
   {"data": {"name": "f_e"}, "mark": {"type": "point", "opacity": 0},
    "encoding": {
     "x": {"field": "t", "type": "quantitative", "scale": {"domain": [0, 50], "nice": false, "zero": false}, "axis": {"orient": "bottom", "values": [5,15,25,35,45], "labels": false, "domain": false, "tickSize": -2.5, "title": null}},
     "y": {"field": "hi", "type": "quantitative", "scale": {"domain": [-200, 400], "nice": false, "zero": false}, "axis": {"orient": "left", "values": [-150,-50,50,150,250,350], "labels": false, "domain": false, "tickSize": -2.5, "title": null}}
    }},
   {"data": {"name": "f_s1"}, "mark": {"type": "line", "color": "black", "strokeWidth": 1.3, "interpolate": "monotone"},
    "encoding": {
     "x": {"field": "t", "type": "quantitative", "scale": {"domain": [19.9, 20.1], "range": [57, 144], "nice": false, "zero": false}, "axis": {"orient": "bottom", "offset": -191, "values": [20], "format": ".1f", "tickSize": -3, "labelPadding": 16, "title": null}},
     "y": {"field": "v", "type": "quantitative", "scale": {"domain": [-50, 50], "range": [70, 5], "nice": false, "zero": false}, "axis": {"orient": "left", "offset": -57, "values": [-50,0,50], "format": "d", "tickSize": -3, "labelPadding": 5, "title": null}}
    }},
   {"data": {"name": "f_s2"}, "mark": {"type": "line", "color": "black", "strokeWidth": 1.3, "interpolate": "monotone"},
    "encoding": {
     "x": {"field": "t", "type": "quantitative", "scale": {"domain": [44.9, 45.1], "range": [234, 322], "nice": false, "zero": false}, "axis": {"orient": "bottom", "offset": -191, "values": [45], "format": ".1f", "tickSize": -3, "labelPadding": 16, "title": null}},
     "y": {"field": "v", "type": "quantitative", "scale": {"domain": [-50, 50], "range": [70, 5], "nice": false, "zero": false}, "axis": {"orient": "left", "offset": -234, "values": [-50,0,50], "format": "d", "tickSize": -3, "labelPadding": 5, "title": null}}
    }}
  ]
 }
]
}
